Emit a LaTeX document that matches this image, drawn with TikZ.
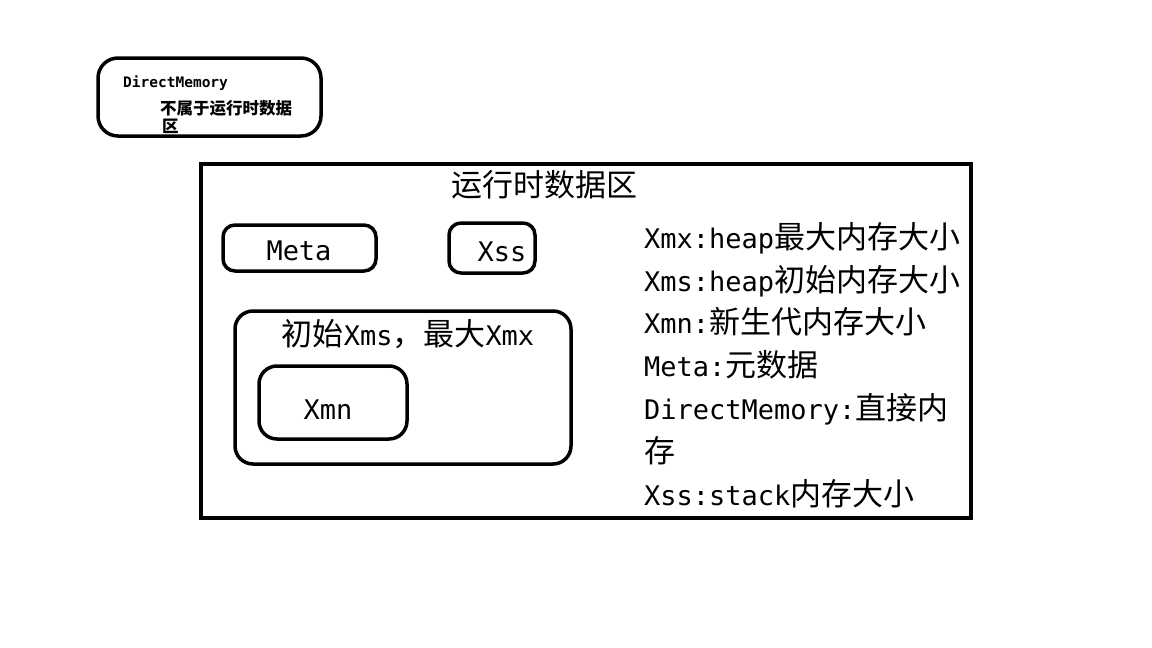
\documentclass[tikz,border=0pt]{standalone}
\usepackage{fontspec}
\setmainfont{Noto Sans CJK SC}
\newfontfamily\latfont{DejaVu Sans Mono}[Scale=0.87]
\newfontfamily\latbold{DejaVu Sans Mono Bold}
\newcommand\La[1]{{\latfont #1}}
\begin{document}
\begin{tikzpicture}[x=1pt,y=-1pt,
  box/.style={draw=black, line width=3.5pt, inner sep=0pt, rounded corners=#1},
  box/.default=16pt,
  frame/.style={draw=black, line width=4pt, inner sep=0pt},
  big/.style={font=\fontsize{31}{31}\selectfont, inner sep=0pt},
  small/.style={font=\fontsize{16.5}{17}\selectfont\bfseries, inner sep=0pt},
]
\useasboundingbox[fill=white] (0,0) rectangle (1152,648);

% DirectMemory box
\node[box=20pt, minimum width=223pt, minimum height=78pt] (dm) at (209.5,97) {};
\node[inner sep=0pt, anchor=base west, font=\latbold\fontsize{14.5}{17}\selectfont] (dmt) at (123,87) {DirectMemory};
\node[small, anchor=base west] (dm1) at (160,114) {不属于运行时数据};
\node[small, anchor=base west] (dm2) at (162,132) {区};

% runtime data area
\node[frame, minimum width=770pt, minimum height=354pt] (rt) at (586,341) {};
\node[big, anchor=base] (rtt) at (544.5,196) {运行时数据区};

% Meta
\node[box=12pt, minimum width=153pt, minimum height=46pt] (meta) at (299.5,248) {};
\node[big, anchor=base] (metat) at (299,260) {\La{Meta}};

% Xss
\node[box=12pt, minimum width=86pt, minimum height=50pt] (xss) at (492,248) {};
\node[big, anchor=base] (xsst) at (502,261) {\La{Xss}};

% heap
\node[box=18pt, minimum width=336pt, minimum height=153pt] (heap) at (403,387.5) {};
\node[big, anchor=base] (heapt) at (408,345) {初始\La{Xms}，最大\La{Xmx}};

% Xmn
\node[box=18pt, minimum width=148pt, minimum height=73pt] (xmn) at (333,402.5) {};
\node[big, anchor=base] (xmnt) at (328,419) {\La{Xmn}};

% legend
\node[big, anchor=base west] (l1) at (644,248.5) {\La{Xmx:heap}最大内存大小};
\node[big, anchor=base west] (l2) at (644,291) {\La{Xms:heap}初始内存大小};
\node[big, anchor=base west] (l3) at (644,333.5) {\La{Xmn:}新生代内存大小};
\node[big, anchor=base west] (l4) at (644,376) {\La{Meta:}元数据};
\node[big, anchor=base west] (l5) at (644,419) {\La{DirectMemory:}直接内};
\node[big, anchor=base west] (l6) at (644,462) {存};
\node[big, anchor=base west] (l7) at (644,505) {\La{Xss:stack}内存大小};
\end{tikzpicture}
\end{document}
